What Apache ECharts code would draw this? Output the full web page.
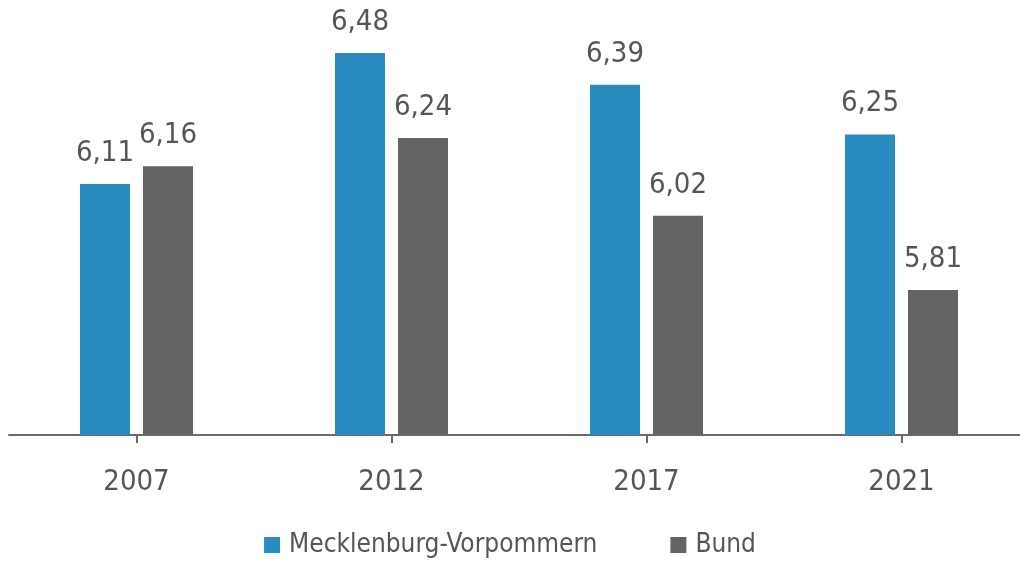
<!DOCTYPE html>
<html><head><meta charset="utf-8">
<script src="https://cdn.jsdelivr.net/npm/echarts@6/dist/echarts.min.js"></script>
<style>html,body{margin:0;padding:0;background:#fff}#c{width:1020px;height:562px}</style>
</head><body><div id="c"></div>
<script>
const categories = ['2007', '2012', '2017', '2021'];
const seriesNames = ['Mecklenburg-Vorpommern', 'Bund'];
const mvValues = [6.11, 6.48, 6.39, 6.25];
const bundValues = [6.16, 6.24, 6.02, 5.81];

const FONT = '"DejaVu Sans Condensed", "DejaVu Sans", sans-serif';
const chart = echarts.init(document.getElementById('c'));
const fmt = p => p.value.toFixed(2).replace('.', ',');
chart.setOption({
  animation: false,
  textStyle: { fontFamily: FONT },
  grid: { left: 9, width: 1020, top: 10.6, bottom: 127, outerBoundsMode: 'none', containLabel: false },
  legend: {
    bottom: -1, left: 'center', itemWidth: 16, itemHeight: 16, itemGap: 73,
    icon: 'rect',
    textStyle: { fontFamily: FONT, fontSize: 26, color: '#555', padding: [0, 0, 0, 4] },
    data: seriesNames
  },
  xAxis: {
    type: 'category', data: categories,
    axisLine: { lineStyle: { color: '#6a6a6a', width: 2 } },
    axisTick: { show: true, alignWithLabel: true, length: 8, lineStyle: { color: '#6a6a6a', width: 2 } },
    axisLabel: { fontFamily: FONT, fontSize: 29, color: '#555', margin: 33 }
  },
  yAxis: { type: 'value', min: 5.4, max: 6.6, show: false, splitLine: { show: false } },
  series: [
    { name: seriesNames[0], type: 'bar', data: mvValues, barWidth: 50, barGap: '26%',
      itemStyle: { color: '#2a8bbf' },
      label: { show: true, position: 'top', distance: 16, formatter: fmt, fontFamily: FONT, fontSize: 29, color: '#555' } },
    { name: seriesNames[1], type: 'bar', data: bundValues, barWidth: 50, barGap: '26%',
      itemStyle: { color: '#646464' },
      label: { show: true, position: 'top', distance: 16, formatter: fmt, fontFamily: FONT, fontSize: 29, color: '#555' } }
  ]
});
</script></body></html>
